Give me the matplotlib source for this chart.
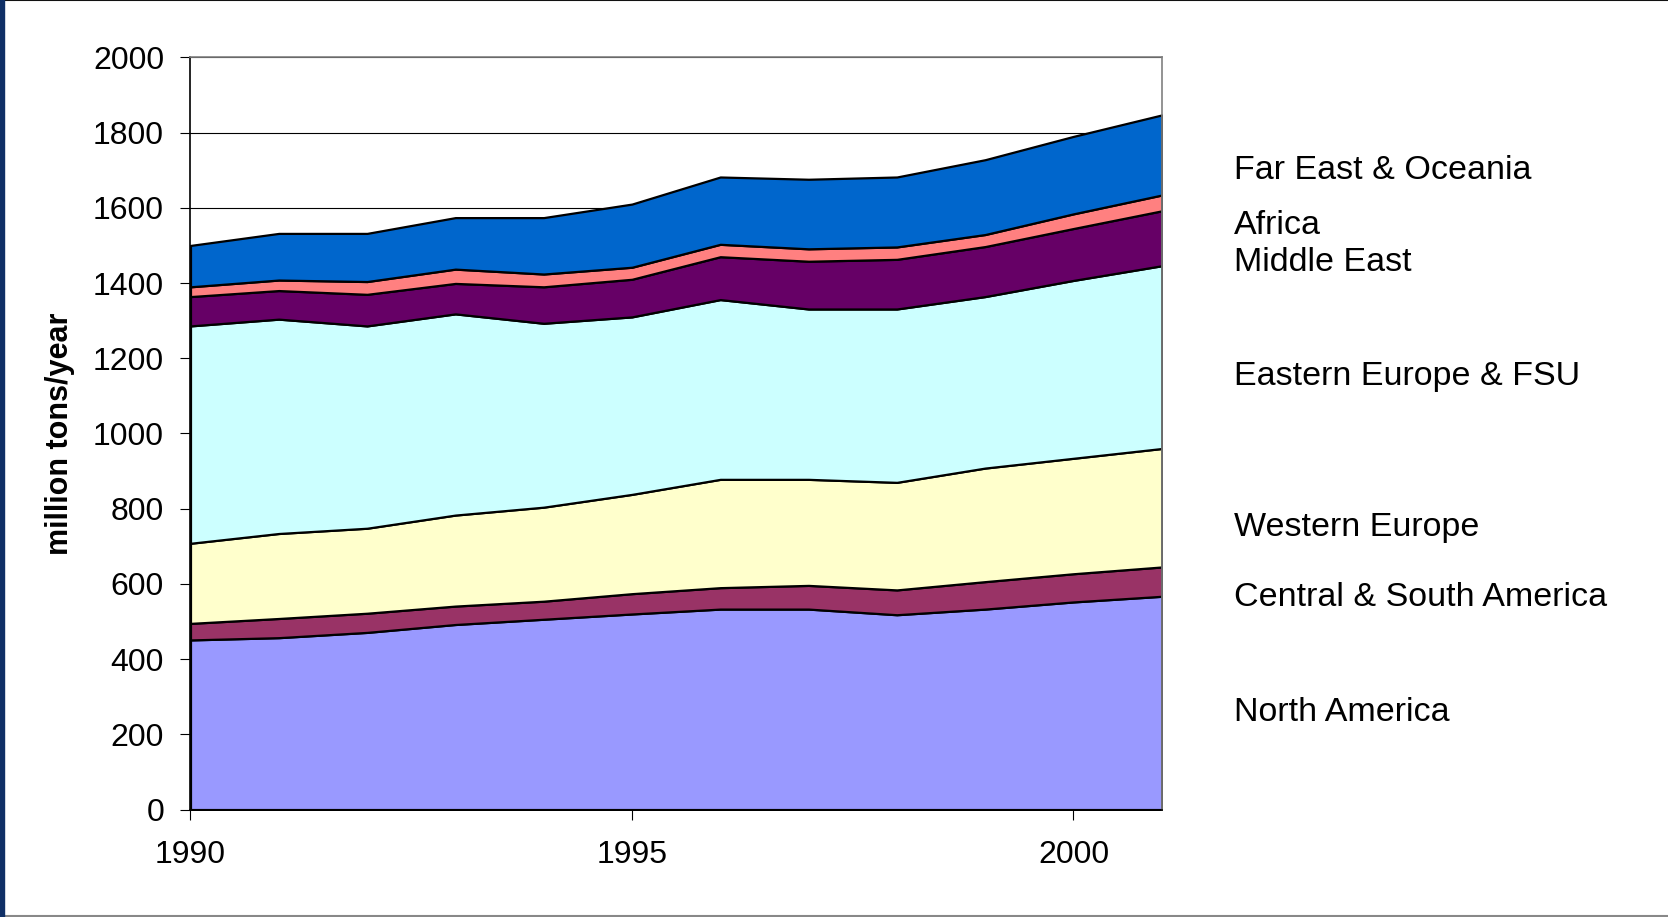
import matplotlib
matplotlib.use("Agg")
import matplotlib.pyplot as plt
from matplotlib.patches import Rectangle
from matplotlib.lines import Line2D

plt.rcParams['font.family'] = ['Liberation Sans', 'DejaVu Sans']

# Years and regional values (million tons/year)
years = [1990, 1991, 1992, 1993, 1994, 1995, 1996, 1997, 1998, 1999, 2000, 2001]
north_america = [451, 457, 471, 492, 506, 520, 533, 533, 518, 533, 552, 567]
central_south_america = [44, 51, 51, 49, 48, 54, 57, 63, 66, 73, 75, 78]
western_europe = [213, 226, 226, 242, 250, 264, 288, 282, 286, 302, 307, 315]
eastern_europe_fsu = [578, 570, 538, 535, 489, 472, 478, 453, 461, 456, 473, 486]
middle_east = [78, 76, 84, 81, 97, 100, 114, 127, 132, 133, 138, 146]
africa = [26, 28, 34, 38, 34, 32, 33, 33, 33, 32, 39, 42]
far_east_oceania = [110, 124, 128, 137, 150, 168, 179, 185, 186, 199, 206, 213]

labels = ['North America', 'Central & South America', 'Western Europe',
          'Eastern Europe & FSU', 'Middle East', 'Africa', 'Far East & Oceania']
colors = ['#9999FF', '#993366', '#FFFFCC', '#CCFFFF', '#660066', '#FF8080', '#0066CC']
label_y = [259, 564, 750, 1152, 1455, 1554, 1700]

fig = plt.figure(figsize=(16.68, 9.17), dpi=100)
ax = fig.add_axes([0.1142, 0.1172, 0.5823, 0.8202])

ax.stackplot(years, north_america, central_south_america, western_europe,
             eastern_europe_fsu, middle_east, africa, far_east_oceania,
             colors=colors, edgecolor='black', linewidth=1.6, zorder=2)

ax.set_xlim(1990, 2001)
ax.set_ylim(0, 2000)
ax.set_yticks(range(0, 2001, 200))
ax.set_xticks([1990, 1995, 2000])
ax.yaxis.grid(True, color='black', linewidth=0.8, zorder=0)
ax.set_axisbelow(True)

ax.tick_params(axis='y', direction='out', length=7, width=0.8, labelsize=23, pad=12)
ax.tick_params(axis='x', direction='inout', length=14, width=0.8, labelsize=23, pad=15)

for side in ['top', 'right']:
    ax.spines[side].set_color('#808080')
    ax.spines[side].set_linewidth(1.2)
for side in ['left', 'bottom']:
    ax.spines[side].set_color('black')
    ax.spines[side].set_linewidth(1.2)

ax.set_ylabel('million tons/year', fontsize=22, fontweight='bold', labelpad=13)

# Series names on the right, next to their bands
for name, y in zip(labels, label_y):
    ax.text(1.074, y, name, transform=ax.get_yaxis_transform(), fontsize=24.5,
            va='center', ha='left', clip_on=False)

# Slide frame
fig.add_artist(Rectangle((0, 0), 0.0021, 1, transform=fig.transFigure,
                         color='#0F2F66', zorder=10))
fig.add_artist(Line2D([0, 1], [0.9995, 0.9995], transform=fig.transFigure,
                      color='#111111', linewidth=1.5))
fig.add_artist(Line2D([0, 1], [0.001, 0.001], transform=fig.transFigure,
                      color='#888888', linewidth=1.5))

fig.savefig('out.png', dpi=100)
